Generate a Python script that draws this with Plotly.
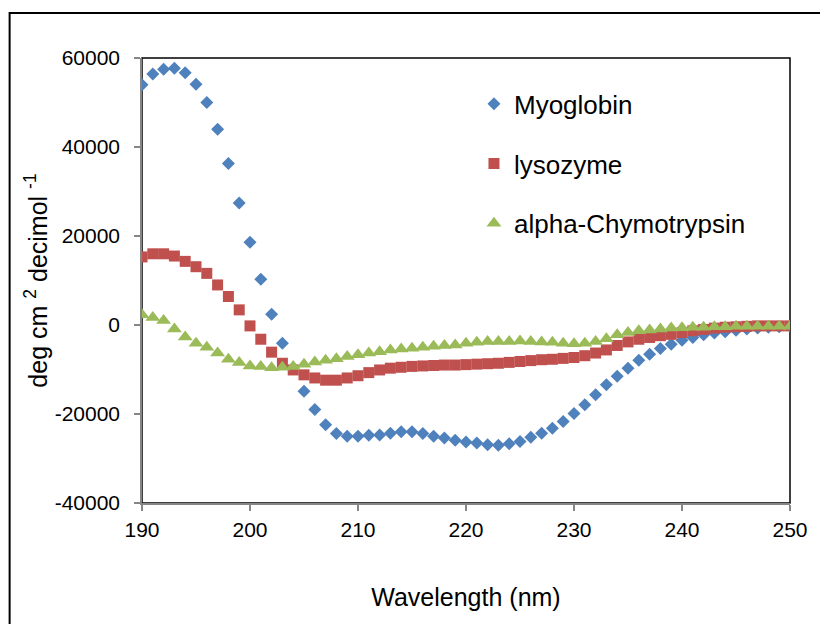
import plotly.graph_objects as go

wavelength = list(range(190, 251))

myoglobin = [54000, 56400, 57500, 57700, 56700, 54100, 50000, 44000, 36300, 27400,
             18600, 10300, 2400, -4100, -9600, -14900, -19000, -22400, -24400, -25000,
             -25000, -24800, -24700, -24300, -24000, -24000, -24400, -25000, -25400, -25900,
             -26300, -26500, -26900, -27000, -26700, -26200, -25200, -24300, -23200, -21700,
             -19900, -17900, -15700, -13400, -11500, -9700, -7900, -6600, -5300, -4300,
             -3400, -2800, -2200, -1800, -1500, -1200, -900, -700, -500, -400, -300]

lysozyme = [15300, 16000, 16000, 15500, 14300, 13100, 11600, 9000, 6400, 3400,
            -200, -3200, -6100, -8600, -10100, -11200, -11900, -12400, -12400, -11900,
            -11400, -10700, -10100, -9700, -9500, -9300, -9200, -9100, -9000, -9000,
            -8900, -8800, -8700, -8600, -8400, -8200, -8000, -7800, -7700, -7500,
            -7300, -6900, -6300, -5600, -4600, -3800, -3200, -2800, -2400, -2100,
            -1700, -1300, -1000, -700, -500, -400, -300, -200, -200, -200, -200]

chymotrypsin = [2300, 1700, 1000, -900, -2700, -4100, -5000, -6300, -7700, -8400,
                -9200, -9300, -9600, -9500, -9300, -8800, -8300, -7900, -7600, -7100,
                -6700, -6300, -6000, -5600, -5400, -5200, -5000, -4800, -4600, -4500,
                -4100, -3900, -3700, -3700, -3700, -3600, -3700, -3800, -3900, -4100,
                -4200, -4100, -3700, -3100, -2200, -1700, -1300, -1100, -900, -700,
                -600, -500, -500, -400, -400, -300, -300, -300, -300, -300, -300]

series_names = ["Myoglobin", "lysozyme", "alpha-Chymotrypsin"]
x_ticks = [190, 200, 210, 220, 230, 240, 250]
y_ticks = [-40000, -20000, 0, 20000, 40000, 60000]
y_ticktext = ["-40000", "-20000", "0", "20000", "40000", "60000"]

FONT = "Liberation Sans, Arial, sans-serif"

fig = go.Figure()
fig.add_trace(go.Scatter(x=wavelength, y=myoglobin, mode="markers", name=series_names[0],
                         legendgroup="a",
                         marker=dict(symbol="diamond", size=10, color="#4F81BD")))
fig.add_trace(go.Scatter(x=wavelength, y=lysozyme, mode="markers", name=series_names[1],
                         legendgroup="b",
                         marker=dict(symbol="square", size=11, color="#C0504D")))
fig.add_trace(go.Scatter(x=wavelength, y=chymotrypsin, mode="markers", name=series_names[2],
                         legendgroup="c",
                         marker=dict(symbol="triangle-up", size=13, color="#9BBB59")))

fig.update_layout(
    width=820, height=624,
    margin=dict(l=142, r=27, t=58, b=121),
    paper_bgcolor="white", plot_bgcolor="white",
    font=dict(family=FONT, color="black", size=21),
    showlegend=True,
    legend=dict(x=0.5123, y=0.95, xanchor="left", yanchor="top",
                font=dict(size=26, family=FONT), tracegroupgap=23,
                bgcolor="rgba(0,0,0,0)"),
    xaxis=dict(range=[190, 250], tickvals=x_ticks, showgrid=False, zeroline=False,
               showline=True, linecolor="#868686", linewidth=1.5,
               ticks="outside", ticklen=6, tickcolor="#868686", tickwidth=1.5,
               tickfont=dict(size=21), ticklabelstandoff=1,
               title=dict(text="Wavelength (nm)", font=dict(size=25), standoff=49)),
    yaxis=dict(range=[-40000, 60000], tickvals=y_ticks, ticktext=y_ticktext,
               showgrid=False, zeroline=False,
               showline=True, linecolor="#868686", linewidth=1.5,
               ticks="outside", ticklen=6, tickcolor="#868686", tickwidth=1.5,
               tickfont=dict(size=21), ticklabelstandoff=10,
               title=dict(text="deg cm <sup>2</sup> decimol <sup>-1</sup>",
                          font=dict(size=25), standoff=0)),
    shapes=[
        dict(type="rect", xref="paper", yref="paper", x0=0, x1=1, y0=0, y1=1,
             line=dict(color="black", width=1.5), layer="below"),
        dict(type="rect", xref="paper", yref="paper", x0=-0.2043, x1=1.3, y0=-0.5, y1=1.101,
             line=dict(color="black", width=2), layer="below"),
    ],
)

fig.write_html("out.html")
